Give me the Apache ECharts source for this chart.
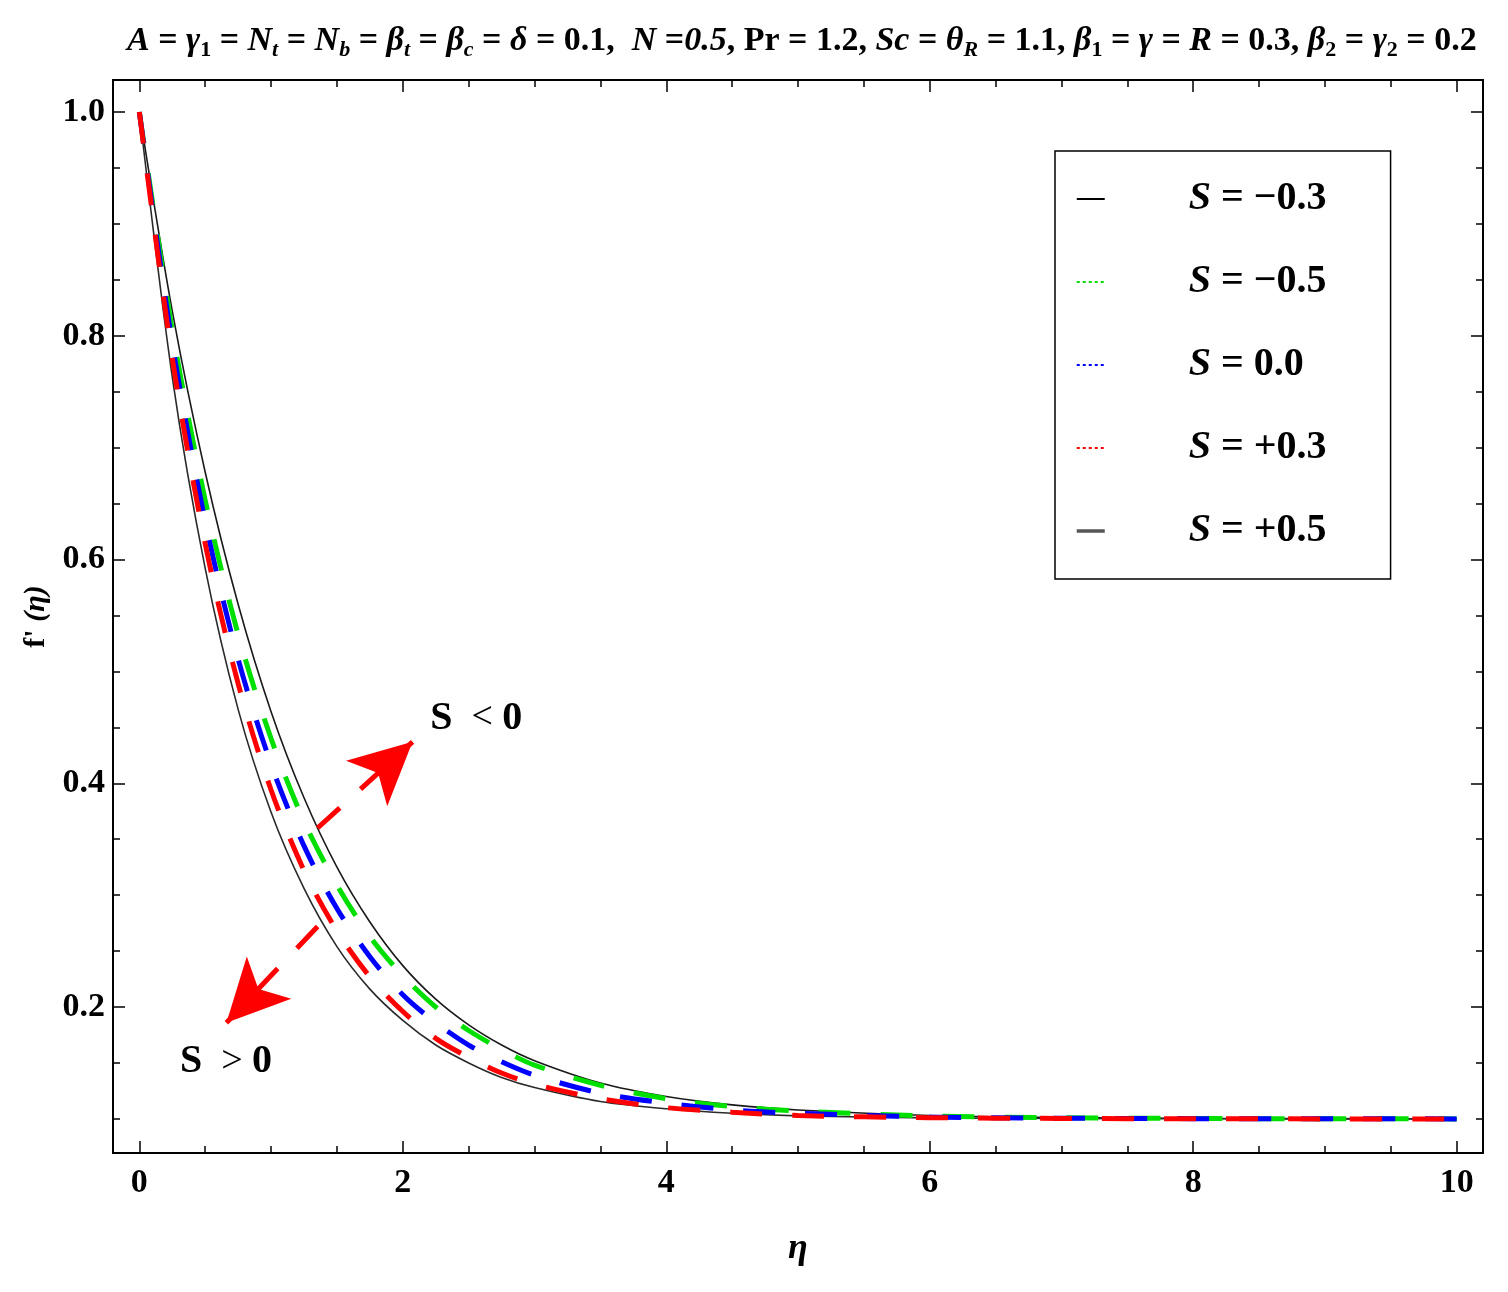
<!DOCTYPE html>
<html>
<head>
<meta charset="utf-8">
<script src="https://cdn.jsdelivr.net/npm/echarts@6/dist/echarts.min.js"></script>
<style>
  html, body { margin: 0; padding: 0; background: #fff; }
  #chart { width: 1508px; height: 1292px; }
</style>
</head>
<body>
<div id="chart"></div>
<script>
// ---------- data ----------
const eta = [0, 0.25, 0.5, 0.75, 1, 1.25, 1.5, 1.75, 2, 2.25, 2.5, 2.75, 3, 3.5, 4, 4.5, 5, 6, 7, 8, 9, 10];
// outer upper black curve
const sNeg03 = [1.0, 0.822, 0.678, 0.560, 0.464, 0.387, 0.325, 0.276, 0.237, 0.207, 0.184, 0.166, 0.152, 0.132, 0.120, 0.1125, 0.108, 0.103, 0.1012, 0.1005, 0.1002, 0.1001];
// green dashed
const sNeg05 = [1.0, 0.805, 0.653, 0.533, 0.440, 0.366, 0.309, 0.263, 0.228, 0.200, 0.179, 0.162, 0.148, 0.130, 0.118, 0.111, 0.107, 0.1026, 0.101, 0.1004, 0.1001, 0.1000];
// blue dashed
const s00 = [1.0, 0.793, 0.634, 0.511, 0.417, 0.344, 0.288, 0.245, 0.211, 0.186, 0.166, 0.151, 0.139, 0.123, 0.114, 0.108, 0.105, 0.1017, 0.1006, 0.1002, 0.1001, 0.1000];
// red dashed
const sPos03 = [1.0, 0.780, 0.614, 0.489, 0.394, 0.322, 0.268, 0.227, 0.196, 0.172, 0.155, 0.141, 0.131, 0.118, 0.110, 0.106, 0.103, 0.1011, 0.1004, 0.1001, 0.1000, 0.1000];
// outer lower black curve
const sPos05 = [1.0, 0.763, 0.592, 0.466, 0.374, 0.306, 0.254, 0.216, 0.188, 0.166, 0.150, 0.137, 0.128, 0.1155, 0.109, 0.105, 0.1027, 0.1009, 0.1003, 0.1001, 0.1000, 0.1000];

const seriesNames = ['S = \u22120.3', 'S = \u22120.5', 'S = 0.0', 'S = +0.3', 'S = +0.5'];

const xMajorTicks = [0, 2, 4, 6, 8, 10];
const xMinorTicks = [0.5, 1, 1.5, 2.5, 3, 3.5, 4.5, 5, 5.5, 6.5, 7, 7.5, 8.5, 9, 9.5];
const yMajorTicks = [0.2, 0.4, 0.6, 0.8, 1.0];
const yMinorTicks = [0.1, 0.15, 0.25, 0.3, 0.35, 0.45, 0.5, 0.55, 0.65, 0.7, 0.75, 0.85, 0.9, 0.95];

// annotation arrows [start, tip] in data coordinates
const arrowUp = [[1.353, 0.360], [2.074, 0.437]];
const arrowDown = [[1.353, 0.272], [0.661, 0.186]];
const labelUpPos = [2.204, 0.458];
const labelDownPos = [0.304, 0.151];

// ---------- chart ----------
const FONT = 'Liberation Serif';
const xMin = -0.2, xMax = 10.2, yMin = 0.0695, yMax = 1.0286;

function pairs(arr) { return eta.map((x, i) => [x, arr[i]]); }

function xAxisDef(position, ticks, len, withLabel) {
  return {
    type: 'value', position: position, min: xMin, max: xMax,
    axisLine: { show: true, onZero: false, lineStyle: { color: '#000', width: 2 } },
    axisTick: { show: true, inside: true, length: len, customValues: ticks, lineStyle: { color: '#000', width: 1.5 } },
    axisLabel: withLabel ? {
      show: true, customValues: ticks, margin: 13,
      fontFamily: FONT, fontWeight: 'bold', fontSize: 34, color: '#000'
    } : { show: false },
    splitLine: { show: false }
  };
}
function yAxisDef(position, ticks, len, withLabel) {
  return {
    type: 'value', position: position, min: yMin, max: yMax,
    axisLine: { show: true, onZero: false, lineStyle: { color: '#000', width: 2 } },
    axisTick: { show: true, inside: true, length: len, customValues: ticks, lineStyle: { color: '#000', width: 1.5 } },
    axisLabel: withLabel ? {
      show: true, customValues: ticks, margin: 8,
      fontFamily: FONT, fontWeight: 'bold', fontSize: 34, color: '#000',
      formatter: v => v.toFixed(1)
    } : { show: false },
    splitLine: { show: false }
  };
}

const xAxes = [
  xAxisDef('bottom', xMajorTicks, 12, true),
  xAxisDef('bottom', xMinorTicks, 7, false),
  xAxisDef('top', xMajorTicks, 12, false),
  xAxisDef('top', xMinorTicks, 7, false)
];
Object.assign(xAxes[0], {
  name: '\u03b7', nameLocation: 'middle', nameGap: 78,
  nameTextStyle: { fontFamily: FONT, fontStyle: 'italic', fontWeight: 'bold', fontSize: 36, color: '#000' }
});
const yAxes = [
  yAxisDef('left', yMajorTicks, 12, true),
  yAxisDef('left', yMinorTicks, 7, false),
  yAxisDef('right', yMajorTicks, 12, false),
  yAxisDef('right', yMinorTicks, 7, false)
];
Object.assign(yAxes[0], {
  name: "{b|f' }{i|(\u03b7)}", nameLocation: 'middle', nameGap: 54, nameRotate: 90,
  nameTextStyle: {
    rich: {
      b: { fontFamily: FONT, fontWeight: 'bold', fontSize: 30, color: '#000' },
      i: { fontFamily: FONT, fontWeight: 'bold', fontStyle: 'italic', fontSize: 30, color: '#000' }
    }
  }
});

const dashPattern = [32, 30];
function lineSeries(name, data, color, width, type, z) {
  return {
    name: name, type: 'line', data: pairs(data),
    xAxisIndex: 0, yAxisIndex: 0,
    smooth: 0.3,
    symbol: 'none', showSymbol: false,
    lineStyle: { color: color, width: width, type: type, cap: 'butt' },
    itemStyle: { color: color },
    z: z
  };
}

const series = [
  lineSeries(seriesNames[0], sNeg03, '#1a1a1a', 1.6, 'solid', 2),
  lineSeries(seriesNames[1], sNeg05, '#00e000', 5, dashPattern, 3),
  lineSeries(seriesNames[2], s00, '#0000ff', 5, dashPattern, 4),
  lineSeries(seriesNames[3], sPos03, '#ff0000', 5, dashPattern, 5),
  lineSeries(seriesNames[4], sPos05, '#2a2a2a', 1.6, 'solid', 2)
];

// arrows and their texts
series[3].markLine = {
  silent: true, animation: false,
  symbol: ['none', 'arrow'], symbolSize: 46,
  lineStyle: { color: '#ff0000', width: 5, type: [30, 28], cap: 'butt' },
  itemStyle: { color: '#ff0000' },
  label: { show: false },
  data: [
    [{ coord: arrowUp[0] }, { coord: arrowUp[1], symbolSize: [46, 62] }],
    [{ coord: arrowDown[0] }, { coord: arrowDown[1], symbolSize: [46, 62] }]
  ]
};
const annRich = {
  b: { fontFamily: FONT, fontWeight: 'bold', fontSize: 40, color: '#000' },
  n: { fontFamily: FONT, fontWeight: 'normal', fontSize: 38, color: '#000' }
};
series[3].markPoint = {
  silent: true, animation: false,
  symbol: 'circle', symbolSize: 1,
  itemStyle: { color: 'rgba(0,0,0,0)' },
  data: [
    { coord: labelUpPos, label: { show: true, position: 'right', distance: 0, formatter: '{b|S}{n|  < }{b|0}', rich: annRich } },
    { coord: labelDownPos, label: { show: true, position: 'right', distance: 0, formatter: '{b|S}{n|  > }{b|0}', rich: annRich } }
  ]
};

const hiddenSym = { opacity: 0, color: 'rgba(0,0,0,0)', borderWidth: 0 };
const legendLine = [
  { name: seriesNames[0], itemStyle: hiddenSym, lineStyle: { color: '#000', width: 2, type: 'solid' } },
  { name: seriesNames[1], itemStyle: hiddenSym, lineStyle: { color: '#00e000', width: 2, type: [3, 3] } },
  { name: seriesNames[2], itemStyle: hiddenSym, lineStyle: { color: '#0000ff', width: 2, type: [3, 3] } },
  { name: seriesNames[3], itemStyle: hiddenSym, lineStyle: { color: '#ff0000', width: 2, type: [3, 3] } },
  { name: seriesNames[4], itemStyle: hiddenSym, lineStyle: { color: '#555', width: 3.5, type: 'solid' } }
];

const titleText =
  '{i|A} = {i|\u03b3}{s|1} = {i|N}{si|t} = {i|N}{si|b} = {i|\u03b2}{si|t} = {i|\u03b2}{si|c} = {i|\u03b4} = 0.1,  ' +
  '{i|N} ={i|0.5}, Pr = 1.2, {i|Sc} = {i|\u03b8}{si|R} = 1.1, {i|\u03b2}{s|1} = {i|\u03b3} = {i|R} = 0.3, ' +
  '{i|\u03b2}{s|2} = {i|\u03b3}{s|2} = 0.2';

const baseT = { fontFamily: FONT, fontWeight: 'bold', fontSize: 34, lineHeight: 44, color: '#000' };
const option = {
  backgroundColor: '#fff',
  animation: false,
  title: {
    text: titleText, left: 122, top: 14,
    textStyle: Object.assign({}, baseT, {
      rich: {
        i: Object.assign({}, baseT, { fontStyle: 'italic' }),
        s: Object.assign({}, baseT, { fontSize: 22, lineHeight: 24, padding: [18, 0, 0, 0] }),
        si: Object.assign({}, baseT, { fontSize: 22, lineHeight: 24, padding: [18, 0, 0, 0], fontStyle: 'italic' })
      }
    })
  },
  grid: { left: 113, right: 25, top: 80, bottom: 139, containLabel: false },
  legend: {
    orient: 'vertical', left: 1055, top: 151,
    padding: [28, 64, 28, 20], itemGap: 43, itemWidth: 28, itemHeight: 14,
    borderColor: '#000', borderWidth: 1.5, backgroundColor: '#fff',
    data: legendLine,
    formatter: name => '{s|S}{t|' + name.slice(1) + '}',
    textStyle: {
      rich: {
        s: { fontFamily: FONT, fontWeight: 'bold', fontStyle: 'italic', fontSize: 40, lineHeight: 40, color: '#000', padding: [0, 0, 0, 79] },
        t: { fontFamily: FONT, fontWeight: 'bold', fontSize: 40, lineHeight: 40, color: '#000' }
      }
    }
  },
  xAxis: xAxes,
  yAxis: yAxes,
  series: series
};

const chart = echarts.init(document.getElementById('chart'), null, { renderer: 'canvas' });
chart.setOption(option);
</script>
</body>
</html>
